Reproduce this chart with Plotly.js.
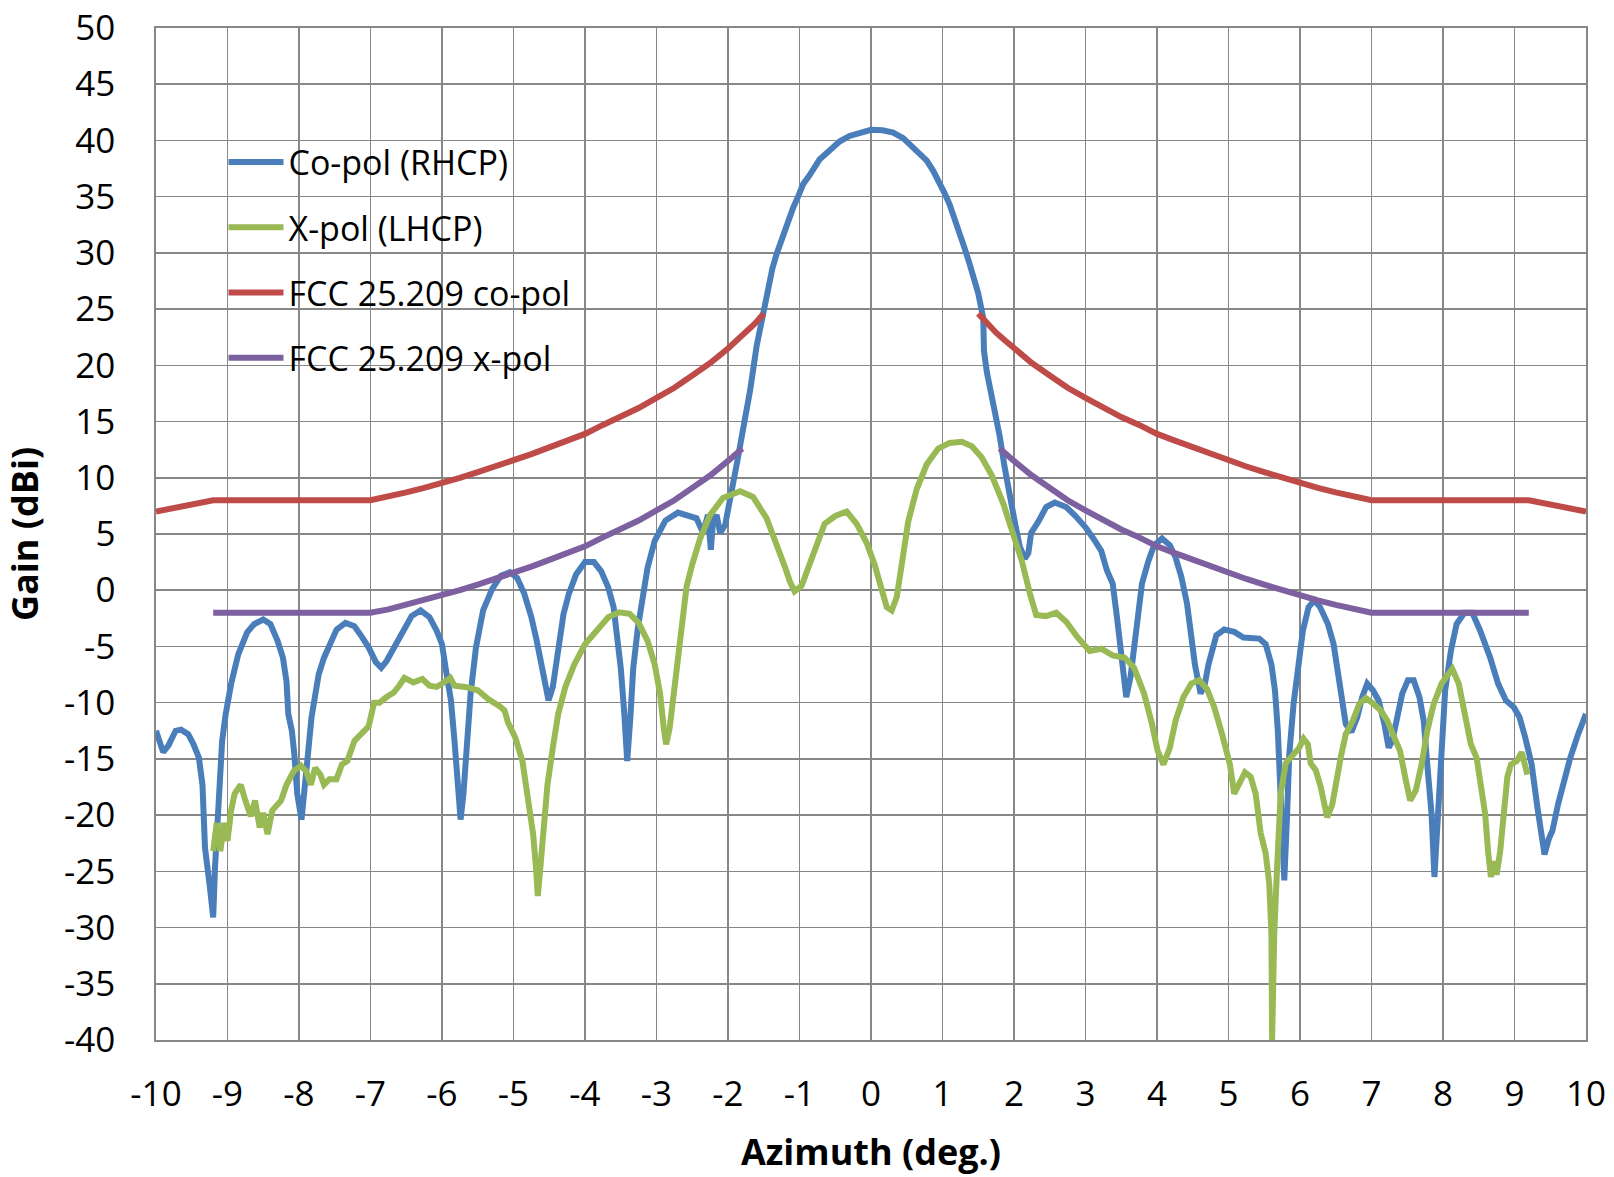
<!DOCTYPE html>
<html>
<head>
<meta charset="utf-8">
<script src="https://cdn.plot.ly/plotly-3.0.1.min.js"></script>
<style>html,body{margin:0;padding:0;background:#fff;}#chart{width:1614px;height:1177px;}</style>
</head>
<body>
<div id="chart"></div>
<script>
// ---- Data ----
const coPolAz = [-10,-9.9,-9.825,-9.725,-9.65,-9.55,-9.475,-9.4,-9.35,-9.315,-9.25,-9.2,-9.175,-9.125,-9.075,-9.025,-8.95,-8.85,-8.725,-8.625,-8.5,-8.4,-8.3,-8.225,-8.175,-8.15,-8.1,-8.065,-8.025,-7.965,-7.915,-7.875,-7.825,-7.775,-7.725,-7.65,-7.575,-7.475,-7.35,-7.225,-7.125,-7.025,-6.925,-6.85,-6.775,-6.675,-6.55,-6.425,-6.3,-6.175,-6.075,-6.0,-5.95,-5.875,-5.825,-5.775,-5.74,-5.7,-5.65,-5.6,-5.525,-5.425,-5.3,-5.175,-5.05,-4.95,-4.85,-4.75,-4.675,-4.625,-4.575,-4.51,-4.45,-4.375,-4.3,-4.225,-4.125,-4.0,-3.875,-3.775,-3.675,-3.6,-3.55,-3.5,-3.45,-3.41,-3.365,-3.325,-3.26,-3.2,-3.125,-3.025,-2.875,-2.7,-2.58,-2.44,-2.35,-2.28,-2.24,-2.21,-2.16,-2.11,-2.04,-2.0,-1.95,-1.9,-1.86,-1.79,-1.69,-1.6,-1.51,-1.44,-1.38,-1.32,-1.25,-1.18,-1.09,-1.02,-0.95,-0.86,-0.72,-0.58,-0.44,-0.3,-0.16,0.0,0.16,0.31,0.45,0.59,0.68,0.78,0.87,0.96,1.03,1.1,1.17,1.24,1.31,1.38,1.44,1.5,1.57,1.58,1.62,1.71,1.8,1.87,1.94,2.01,2.08,2.15,2.2,2.24,2.34,2.45,2.57,2.73,2.86,3.0,3.11,3.22,3.3,3.38,3.44,3.48,3.52,3.57,3.63,3.68,3.74,3.79,3.88,3.96,4.07,4.18,4.26,4.34,4.42,4.48,4.53,4.61,4.67,4.72,4.78,4.83,4.94,5.08,5.21,5.35,5.43,5.52,5.6,5.65,5.69,5.73,5.78,5.82,5.85,5.91,5.98,6.04,6.12,6.2,6.28,6.39,6.47,6.53,6.58,6.64,6.72,6.8,6.87,6.94,7.02,7.1,7.18,7.24,7.29,7.35,7.43,7.51,7.59,7.67,7.73,7.78,7.84,7.88,7.92,7.98,8.03,8.11,8.19,8.3,8.41,8.52,8.66,8.77,8.88,8.99,9.07,9.15,9.24,9.32,9.42,9.48,9.53,9.61,9.69,9.78,9.89,10.0];
const coPolGain = [-12.5,-14.4,-13.8,-12.5,-12.4,-12.8,-13.7,-14.9,-17.3,-22.9,-26.2,-29.1,-24.7,-18.7,-13.4,-11.0,-8.35,-5.7,-3.75,-3.0,-2.6,-3.0,-4.5,-6.0,-8.1,-11.0,-12.5,-14.6,-18.1,-20.4,-17.6,-14.6,-11.3,-8.9,-7.5,-6.0,-4.8,-3.5,-2.9,-3.2,-4.1,-5.1,-6.4,-6.9,-6.3,-5.1,-3.6,-2.3,-1.8,-2.4,-3.6,-4.8,-6.9,-9.8,-13.4,-18.1,-20.4,-18.1,-12.8,-9.2,-5.1,-1.8,0.1,1.3,1.6,1.1,-0.3,-2.4,-4.5,-6.3,-8.1,-9.8,-8.6,-5.1,-2.1,-0.3,1.4,2.5,2.5,1.7,0.25,-1.5,-3.9,-6.9,-11.0,-15.2,-11.3,-6.9,-3.3,-0.6,2.0,4.4,6.2,6.9,6.7,6.4,5.1,6.7,3.6,6.1,6.7,5.1,5.8,7.0,8.6,10.2,11.8,14.3,17.8,21.7,24.7,27.0,28.6,29.9,31.2,32.4,34.0,35.0,36.1,36.9,38.3,39.1,39.9,40.4,40.7,40.95,40.9,40.7,40.2,39.4,38.8,38.2,37.3,36.3,35.3,34.3,33.1,31.8,30.4,29.0,27.7,26.4,24.2,21.3,19.4,16.6,13.7,10.9,8.3,6.1,3.9,2.8,3.3,5.1,6.1,7.4,7.8,7.4,6.6,5.6,4.6,3.5,1.75,0.6,-2.4,-4.8,-7.2,-9.5,-7.7,-4.8,-1.8,0.6,2.6,4.0,4.6,4.0,2.9,1.2,-1.2,-4.2,-6.6,-9.2,-8.3,-6.6,-5.4,-4.0,-3.5,-3.7,-4.2,-4.2,-4.3,-4.8,-6.6,-8.9,-12.5,-18.4,-25.8,-19.9,-14.6,-10.1,-6.3,-3.6,-1.5,-0.9,-1.5,-3.0,-4.8,-7.2,-9.5,-11.9,-12.6,-11.3,-9.5,-8.3,-8.9,-9.8,-11.9,-14.0,-13.4,-11.6,-9.2,-8.0,-8.0,-9.5,-11.6,-15.5,-19.9,-25.5,-21.4,-15.5,-8.9,-5.4,-3.0,-2.0,-2.0,-3.6,-6.0,-8.3,-9.8,-10.4,-11.3,-13.1,-15.5,-19.3,-23.5,-22.1,-21.4,-19.0,-16.9,-14.9,-12.8,-11.0];

const xPolAz = [-9.2,-9.15,-9.1,-9.05,-9.0,-8.95,-8.9,-8.815,-8.75,-8.675,-8.615,-8.55,-8.5,-8.44,-8.375,-8.25,-8.175,-8.075,-7.975,-7.9,-7.835,-7.775,-7.7,-7.65,-7.575,-7.475,-7.4,-7.325,-7.225,-7.1,-7.025,-6.95,-6.875,-6.775,-6.675,-6.6,-6.525,-6.4,-6.275,-6.175,-6.075,-5.975,-5.885,-5.825,-5.675,-5.5,-5.35,-5.2,-5.125,-5.075,-4.975,-4.875,-4.8,-4.725,-4.685,-4.66,-4.625,-4.575,-4.525,-4.45,-4.375,-4.275,-4.15,-4.0,-3.85,-3.675,-3.525,-3.375,-3.25,-3.125,-3.025,-2.95,-2.9,-2.865,-2.815,-2.75,-2.675,-2.58,-2.5,-2.39,-2.25,-2.07,-1.83,-1.65,-1.46,-1.32,-1.2,-1.13,-1.07,-0.97,-0.88,-0.76,-0.65,-0.5,-0.34,-0.2,-0.06,0.05,0.15,0.22,0.29,0.36,0.43,0.52,0.64,0.78,0.94,1.1,1.27,1.41,1.55,1.69,1.85,1.99,2.11,2.22,2.31,2.45,2.59,2.73,2.89,3.06,3.22,3.38,3.55,3.68,3.82,3.93,4.01,4.09,4.18,4.26,4.37,4.48,4.59,4.7,4.8,4.91,5.02,5.08,5.15,5.23,5.31,5.38,5.45,5.52,5.57,5.6,5.61,5.64,5.68,5.73,5.8,5.9,5.99,6.05,6.11,6.15,6.22,6.29,6.34,6.38,6.45,6.5,6.57,6.64,6.74,6.83,6.92,7.01,7.13,7.22,7.29,7.4,7.48,7.54,7.62,7.7,7.78,7.87,7.98,8.06,8.13,8.22,8.31,8.39,8.47,8.53,8.59,8.63,8.67,8.71,8.75,8.8,8.84,8.9,8.95,9.03,9.1,9.14,9.18];
const xPolGain = [-23.2,-20.7,-23.2,-20.7,-22.3,-19.6,-18.1,-17.3,-18.7,-20.1,-18.7,-21.1,-19.8,-21.7,-19.6,-18.7,-17.3,-16.1,-15.6,-16.1,-17.3,-15.8,-16.4,-17.3,-16.8,-16.8,-15.5,-15.2,-13.4,-12.5,-12.1,-10.0,-10.0,-9.5,-9.1,-8.5,-7.8,-8.2,-7.9,-8.5,-8.6,-8.2,-7.8,-8.5,-8.6,-8.9,-9.7,-10.3,-10.7,-11.8,-13.1,-15.2,-18.1,-21.7,-24.7,-27.2,-24.7,-20.5,-17.3,-14.0,-11.0,-8.6,-6.6,-4.8,-3.6,-2.4,-1.97,-2.1,-2.9,-4.5,-6.6,-9.2,-12.2,-13.7,-12.2,-8.6,-3.9,0.3,2.3,4.6,6.7,8.2,8.8,8.3,6.4,4.2,2.0,0.7,-0.1,0.4,2.0,4.2,5.9,6.6,7.0,5.9,4.2,2.3,-0.25,-1.5,-1.8,-0.6,2.3,6.1,9.0,11.2,12.6,13.1,13.2,12.8,11.8,10.2,7.7,5.1,2.6,-0.25,-2.2,-2.3,-2.0,-2.8,-4.2,-5.4,-5.2,-5.8,-6.0,-6.9,-9.2,-11.9,-14.3,-15.5,-14.0,-11.6,-9.5,-8.3,-8.0,-8.8,-10.4,-12.8,-15.5,-18.1,-17.1,-16.2,-16.6,-18.1,-21.6,-23.4,-26.1,-30.5,-40,-30.5,-24.6,-18.1,-15.4,-14.6,-14.0,-13.2,-13.7,-15.4,-16.0,-17.5,-19.3,-20.2,-19.1,-17.2,-14.85,-12.8,-11.6,-10.1,-9.6,-10.0,-10.7,-11.6,-12.8,-14.3,-16.9,-18.7,-17.8,-15.5,-12.5,-10.1,-8.3,-7.7,-7.0,-8.3,-11.0,-13.7,-14.9,-17.2,-19.9,-23.2,-25.5,-24.1,-25.3,-23.2,-19.9,-16.6,-15.5,-15.2,-14.4,-15.5,-16.4];

const fccCoAz = [-10,-9.75,-9.5,-9.2,-7,-6.75,-6.5,-6.25,-6,-5.75,-5.5,-5.25,-5,-4.75,-4.5,-4.25,-4,-3.75,-3.5,-3.25,-3,-2.75,-2.5,-2.25,-2,-1.875,-1.75,-1.625,-1.5,null,1.5,1.625,1.75,1.875,2,2.25,2.5,2.75,3,3.25,3.5,3.75,4,4.25,4.5,4.75,5,5.25,5.5,5.75,6,6.25,6.5,6.75,7,9.2,9.5,9.75,10];
const fccCoGain = [7.0,7.3,7.6,8.0,8.0,8.3,8.7,9.1,9.5,10.0,10.5,11.0,11.5,12.1,12.7,13.3,13.9,14.7,15.4,16.2,17.1,18.0,19.1,20.2,21.5,22.2,22.9,23.7,24.6,null,24.6,23.7,22.9,22.2,21.5,20.2,19.1,18.0,17.1,16.2,15.4,14.7,13.9,13.3,12.7,12.1,11.5,11.0,10.5,10.0,9.5,9.1,8.7,8.3,8.0,8.0,7.6,7.3,7.0];

const fccXAz = [-9.2,-7,-6.75,-6.5,-6.25,-6,-5.75,-5.5,-5.25,-5,-4.75,-4.5,-4.25,-4,-3.75,-3.5,-3.25,-3,-2.75,-2.5,-2.25,-2,-1.9,-1.8,null,1.8,1.9,2,2.25,2.5,2.75,3,3.25,3.5,3.75,4,4.25,4.5,4.75,5,5.25,5.5,5.75,6,6.25,6.5,6.75,7,9.2];
const fccXGain = [-2,-2,-1.7,-1.3,-0.9,-0.5,0.0,0.5,1.0,1.5,2.1,2.7,3.3,3.9,4.7,5.4,6.2,7.1,8.0,9.1,10.2,11.5,12.0,12.6,null,12.6,12.0,11.5,10.2,9.1,8.0,7.1,6.2,5.4,4.7,3.9,3.3,2.7,2.1,1.5,1.0,0.5,0.0,-0.5,-0.9,-1.3,-1.7,-2,-2];

const seriesNames = ["Co-pol (RHCP)", "X-pol (LHCP)", "FCC 25.209 co-pol", "FCC 25.209 x-pol"];
const seriesColors = ["#4A7EBB", "#98B954", "#BE4B48", "#7D60A0"];

const xTickVals = [-10,-9,-8,-7,-6,-5,-4,-3,-2,-1,0,1,2,3,4,5,6,7,8,9,10];
const yTickVals = [-40,-35,-30,-25,-20,-15,-10,-5,0,5,10,15,20,25,30,35,40,45,50];

const FONT = "'Open Sans', 'Noto Sans', sans-serif";
const GRID = "#878787";

const xs = [coPolAz, xPolAz, fccCoAz, fccXAz];
const ys = [coPolGain, xPolGain, fccCoGain, fccXGain];

const traces = seriesNames.map((name, i) => ({
  type: "scatter",
  mode: "lines",
  name: name,
  x: xs[i],
  y: ys[i],
  connectgaps: false,
  legendgroup: "g" + i,
  line: {color: seriesColors[i], width: 6, shape: "linear"},
  hoverinfo: "x+y+name"
}));

const layout = {
  width: 1614,
  height: 1177,
  margin: {l: 156, r: 28, t: 28, b: 137, pad: 0},
  paper_bgcolor: "#ffffff",
  plot_bgcolor: "#ffffff",
  font: {family: FONT, color: "#000000"},
  showlegend: true,
  legend: {
    x: 0.0472, y: 0.8958, xanchor: "left", yanchor: "top",
    bgcolor: "rgba(0,0,0,0)", borderwidth: 0,
    font: {family: FONT, size: 34, color: "#000000"},
    tracegroupgap: 18,
    itemwidth: 55,
    traceorder: "grouped"
  },
  shapes: [{
    type: "rect", xref: "paper", yref: "paper",
    x0: 0.0231, x1: 0.3182, y0: 0.6393, y1: 0.8992,
    fillcolor: "#ffffff", line: {width: 0}, layer: "between"
  }],
  xaxis: {
    range: [-10, 10],
    tickmode: "array",
    tickvals: xTickVals,
    ticktext: xTickVals.map(String),
    showgrid: true, gridcolor: GRID, gridwidth: 1.6,
    showline: true, linecolor: GRID, linewidth: 1.6, mirror: true,
    zeroline: false,
    ticks: "",
    ticklabelstandoff: 22,
    tickfont: {family: FONT, size: 35, color: "#000000"},
    title: {text: "Azimuth (deg.)", font: {family: FONT, size: 36, weight: 700, color: "#000000"}, standoff: 25}
  },
  yaxis: {
    range: [-40, 50],
    tickmode: "array",
    tickvals: yTickVals,
    ticktext: yTickVals.map(String),
    showgrid: true, gridcolor: GRID, gridwidth: 1.6,
    showline: true, linecolor: GRID, linewidth: 1.6, mirror: true,
    zeroline: false,
    ticks: "",
    ticklabelstandoff: 32,
    tickfont: {family: FONT, size: 35, color: "#000000"},
    title: {text: "Gain (dBi)", font: {family: FONT, size: 36, weight: 700, color: "#000000"}, standoff: 14}
  }
};

Plotly.newPlot("chart", traces, layout, {staticPlot: true, displayModeBar: false});
</script>
</body>
</html>
